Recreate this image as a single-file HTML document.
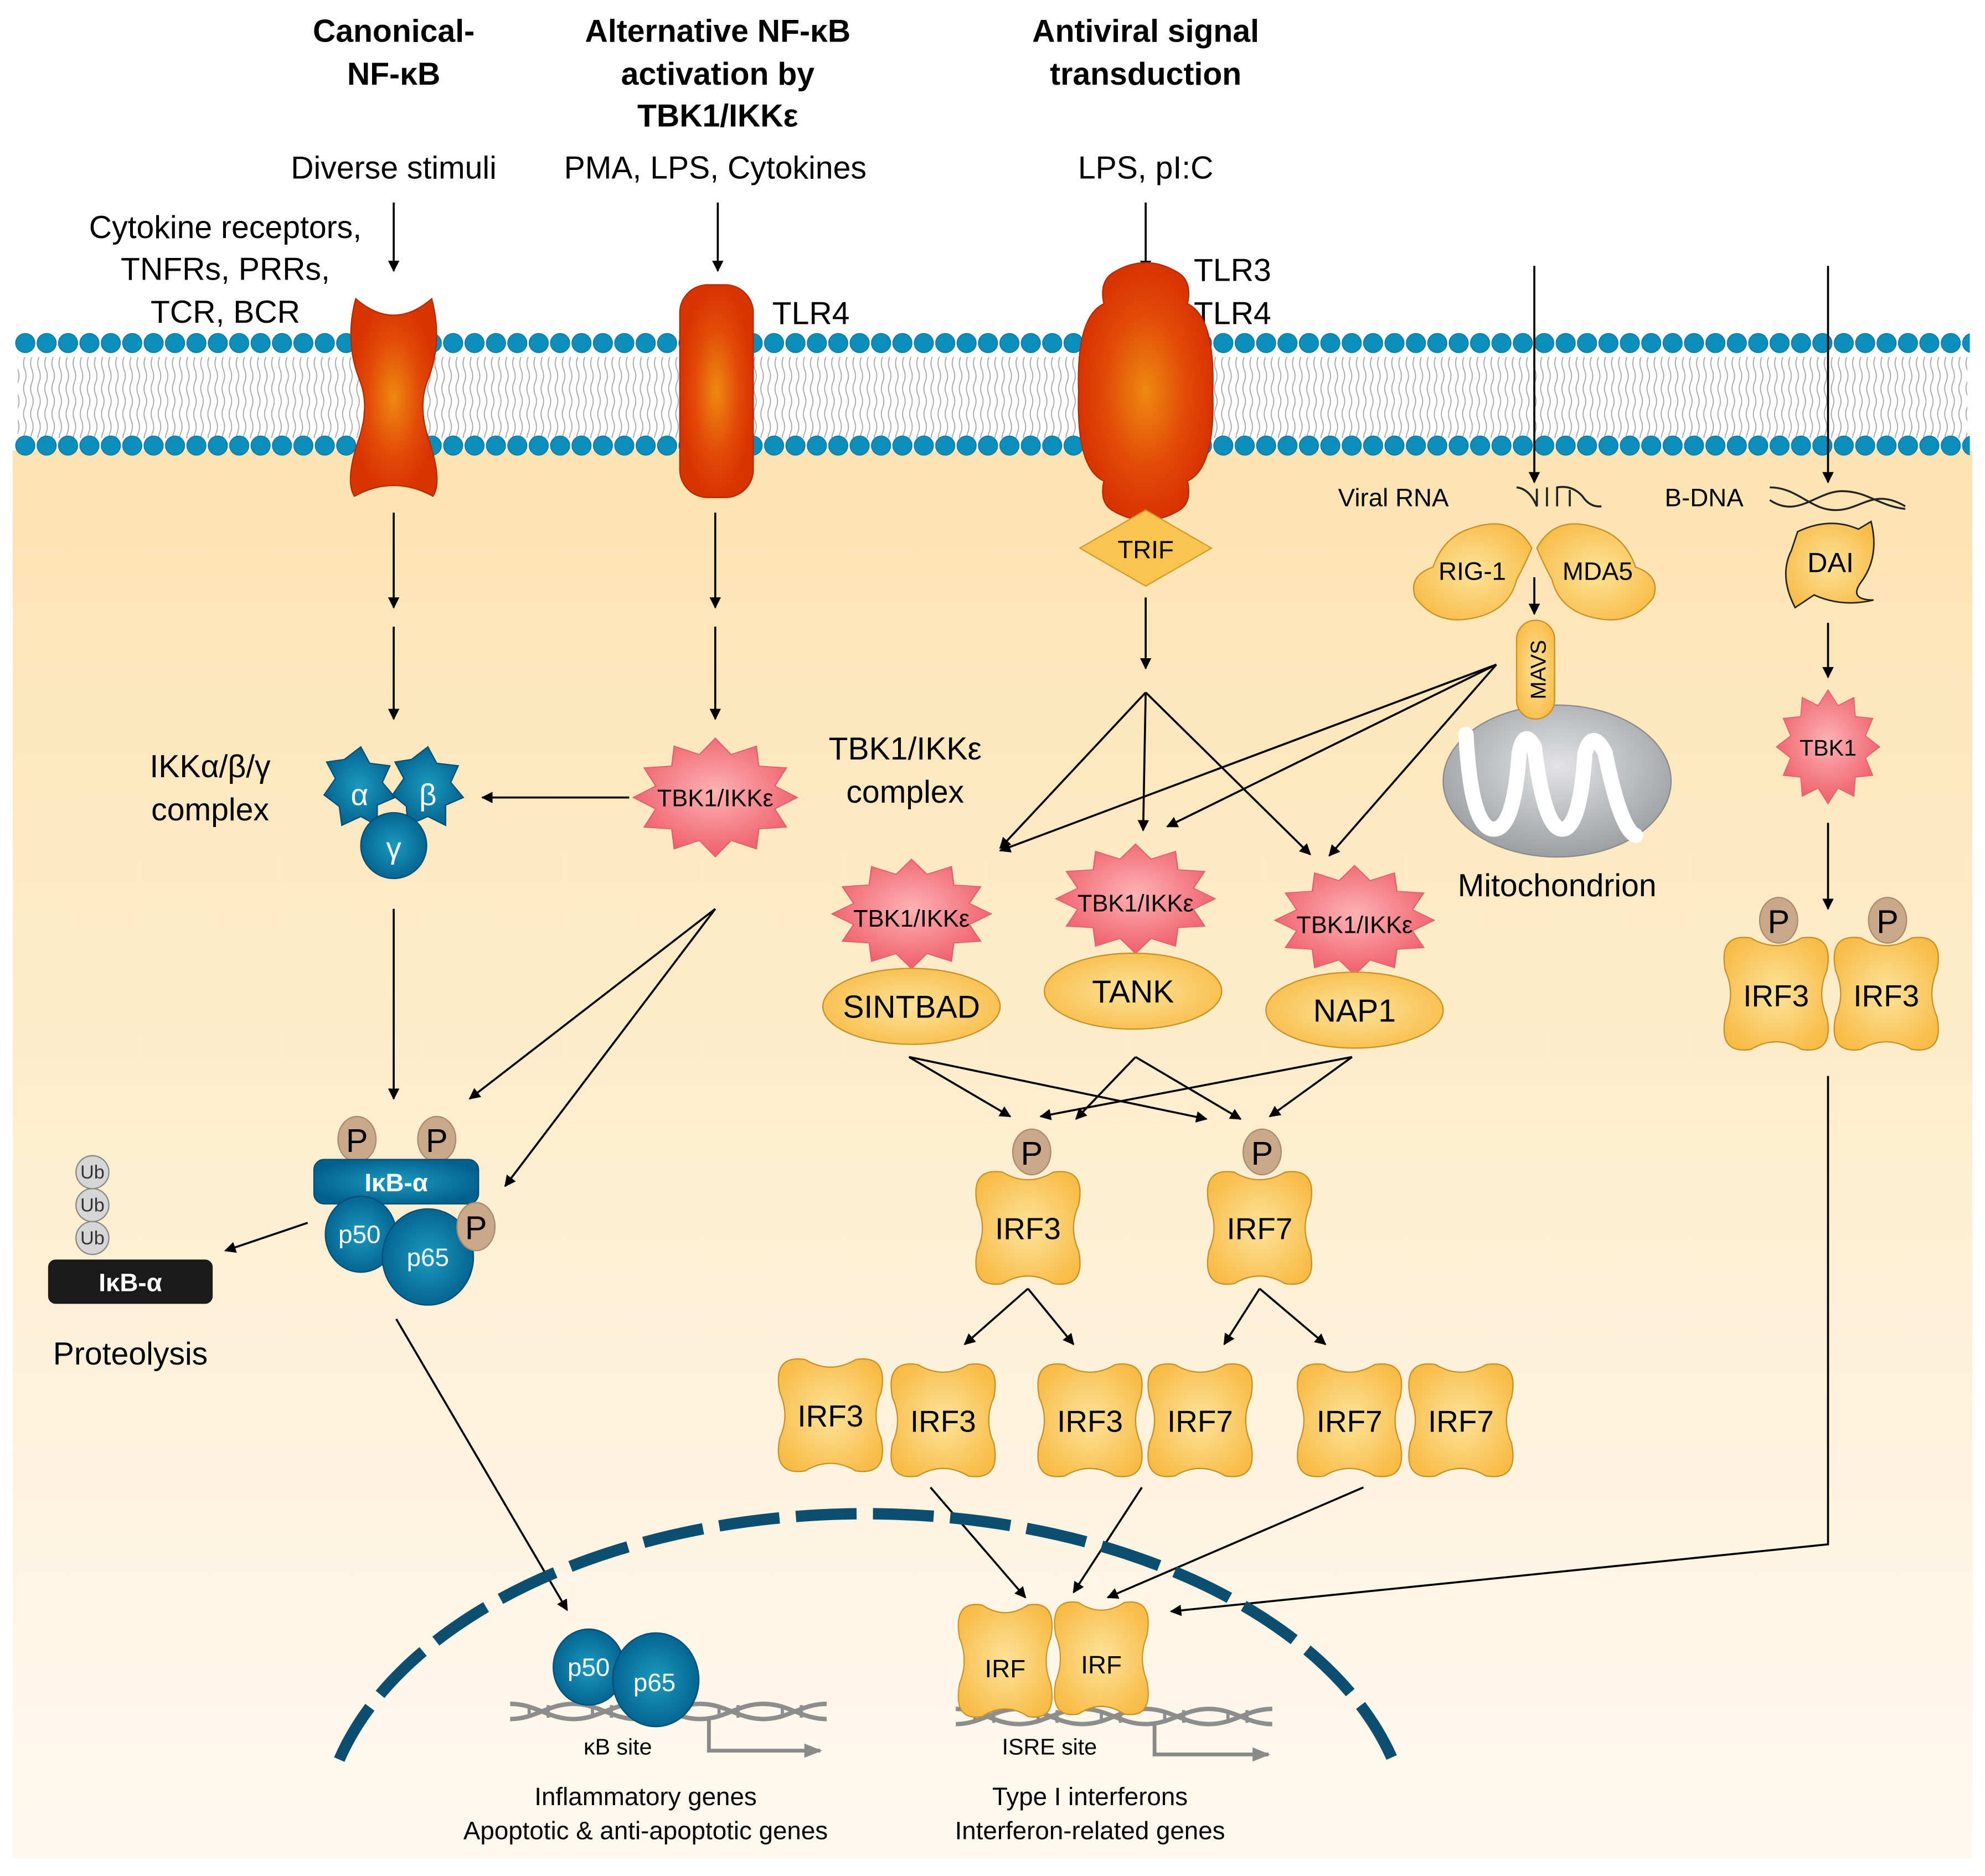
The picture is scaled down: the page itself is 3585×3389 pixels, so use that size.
<!DOCTYPE html>
<html><head><meta charset="utf-8"><style>
html,body{margin:0;padding:0;background:#fff;}
svg{display:block;}
text{font-family:"Liberation Sans",Arial,sans-serif;}
</style></head><body>
<svg width="3585" height="3389" viewBox="0 0 1568 1482" preserveAspectRatio="none" xmlns="http://www.w3.org/2000/svg">
<defs>
<linearGradient id="cyto" x1="0" y1="0" x2="0" y2="1">
<stop offset="0" stop-color="#fde3b1"/><stop offset="1" stop-color="#fef9f0"/></linearGradient>
<radialGradient id="red" cx="0.5" cy="0.5" r="0.5"><stop offset="0" stop-color="#ee8a10"/><stop offset="0.6" stop-color="#e24a08"/><stop offset="1" stop-color="#d93300"/></radialGradient>
<radialGradient id="pink" cx="0.5" cy="0.45" r="0.55"><stop offset="0" stop-color="#fdb3b3"/><stop offset="1" stop-color="#ef5e6c"/></radialGradient>
<radialGradient id="orng" cx="0.5" cy="0.5" r="0.6"><stop offset="0" stop-color="#fde39a"/><stop offset="1" stop-color="#f8bb45"/></radialGradient>
<radialGradient id="blue" cx="0.5" cy="0.5" r="0.55"><stop offset="0" stop-color="#1b9ac0"/><stop offset="1" stop-color="#02608e"/></radialGradient>
<radialGradient id="mito" cx="0.5" cy="0.4" r="0.6"><stop offset="0" stop-color="#e4e4e6"/><stop offset="1" stop-color="#9c9ea2"/></radialGradient>
<pattern id="heads1" x="11.5" y="263" width="16.9" height="16" patternUnits="userSpaceOnUse">
<circle cx="8.45" cy="8" r="7.6" fill="#0a8fbd" stroke="#08709a" stroke-width="0.6"/></pattern>
<pattern id="heads2" x="11.5" y="344" width="16.9" height="16" patternUnits="userSpaceOnUse">
<circle cx="8.45" cy="8" r="7.6" fill="#0a8fbd" stroke="#08709a" stroke-width="0.6"/></pattern>
<pattern id="tails" x="0" y="282" width="5.6" height="40" patternUnits="userSpaceOnUse">
<path d="M2.8,0 q-2,5 0,10 q2,5 0,10 q-2,5 0,10 q2,5 0,10" fill="none" stroke="#a6a6a6" stroke-width="0.8"/></pattern>
<marker id="ar" viewBox="0 0 10 10" refX="9" refY="5" markerWidth="9" markerHeight="9" markerUnits="userSpaceOnUse" orient="auto">
<path d="M0,0 L10,5 L0,10 z" fill="#000"/></marker>
<marker id="arg" viewBox="0 0 10 10" refX="9" refY="5" markerWidth="14" markerHeight="14" markerUnits="userSpaceOnUse" orient="auto">
<path d="M0,1 L10,5 L0,9 z" fill="#8a8a8a"/></marker>
<path id="irf" d="M-20,-44 Q0,-32 20,-44 Q46,-48 40,-18 Q32,0 40,18 Q46,48 20,44 Q0,32 -20,44 Q-46,48 -40,18 Q-32,0 -40,-18 Q-46,-48 -20,-44 Z" fill="url(#orng)" stroke="#c99026" stroke-width="1"/>
<polygon id="star" points="60,0 43.5,11.6 52,30 31.8,31.8 30,52 11.6,43.5 0,60 -11.6,43.5 -30,52 -31.8,31.8 -52,30 -43.5,11.6 -60,0 -43.5,-11.6 -52,-30 -31.8,-31.8 -30,-52 -11.6,-43.5 0,-60 11.6,-43.5 30,-52 31.8,-31.8 52,-30 43.5,-11.6" fill="url(#pink)" stroke="#e0606c" stroke-width="1"/>
<g id="dna"><path d="M0,-6 C20,-6 30,6 50,6 C70,6 80,-6 100,-6 C120,-6 130,6 150,6 C170,6 180,-6 200,-6 C220,-6 230,6 250,6" fill="none" stroke="#8d8d8d" stroke-width="3.5"/>
<path d="M0,6 C20,6 30,-6 50,-6 C70,-6 80,6 100,6 C120,6 130,-6 150,-6 C170,-6 180,6 200,6 C220,6 230,-6 250,-6" fill="none" stroke="#8d8d8d" stroke-width="3.5"/>
<path d="M15,-5v10M30,-5v10M65,-5v10M80,-5v10M115,-5v10M130,-5v10M165,-5v10M180,-5v10M215,-5v10M230,-5v10" stroke="#8d8d8d" stroke-width="2.5"/></g>
</defs>

<!-- cytoplasm -->
<rect x="10" y="356" width="1548" height="1112" fill="url(#cyto)"/>
<!-- membrane -->
<rect x="14" y="282" width="1540" height="64" fill="url(#tails)"/>
<rect x="11" y="263" width="1545" height="16" fill="url(#heads1)"/>
<rect x="11" y="344" width="1545" height="16" fill="url(#heads2)"/>

<!-- titles -->
<g font-weight="bold" font-size="25" text-anchor="middle">
<text x="311" y="33">Canonical-</text><text x="311" y="67">NF-κB</text>
<text x="567" y="33">Alternative NF-κB</text><text x="567" y="67">activation by</text><text x="567" y="100">TBK1/IKKε</text>
<text x="905" y="33">Antiviral signal</text><text x="905" y="67">transduction</text>
</g>
<g font-size="25" text-anchor="middle">
<text x="311" y="141">Diverse stimuli</text>
<text x="565" y="141">PMA, LPS, Cytokines</text>
<text x="905" y="141">LPS, pI:C</text>
<text x="178" y="188">Cytokine receptors,</text>
<text x="178" y="221">TNFRs, PRRs,</text>
<text x="178" y="255">TCR, BCR</text>
</g>
<g font-size="25"><text x="610" y="256">TLR4</text><text x="943" y="222">TLR3</text><text x="943" y="256">TLR4</text></g>

<!-- arrows -->
<g stroke="#000" stroke-width="1.6" fill="none" marker-end="url(#ar)">
<path d="M311,160V214"/><path d="M567,160V214"/><path d="M905,160V214"/>
<path d="M1212,210V381"/><path d="M1444,210V381"/>
<path d="M311,405V480"/><path d="M311,495V568"/>
<path d="M565,405V480"/><path d="M565,495V568"/>
<path d="M497,630H381"/>
<path d="M311,718V868"/>
<path d="M565,718L371,868"/><path d="M565,718L399,937"/>
<path d="M243,966L178,988"/>
<path d="M313,1042L448,1272"/>
<path d="M905,472V528"/>
<path d="M905,547L790,670"/><path d="M905,547L903,656"/><path d="M905,547L1035,675"/>
<path d="M1182,525L790,672"/><path d="M1182,525L922,653"/><path d="M1182,525L1050,676"/>
<path d="M1212,456V485"/>
<path d="M1444,492V535"/><path d="M1444,650V718"/>
<path d="M718,835L798,882"/><path d="M718,835L953,884"/>
<path d="M897,835L850,884"/><path d="M897,835L980,884"/>
<path d="M1068,835L822,882"/><path d="M1068,835L1003,882"/>
<path d="M812,1018L762,1062"/><path d="M812,1018L848,1062"/>
<path d="M995,1018L967,1062"/><path d="M995,1018L1047,1062"/>
<path d="M735,1175L810,1262"/><path d="M902,1175L848,1258"/><path d="M1077,1175L875,1262"/>
<path d="M1444,850V1220L925,1273"/>
</g>

<!-- receptor 1 hourglass -->
<path d="M281,236 Q311,262 341,236 Q350,270 338,300 Q330,320 338,345 Q350,380 342,392 Q311,375 280,392 Q272,380 284,345 Q292,320 284,300 Q272,270 281,236Z" fill="url(#red)" stroke="#b52a00" stroke-width="1"/>
<!-- receptor 2 -->
<rect x="537" y="225" width="58" height="168" rx="22" fill="url(#red)" stroke="#b52a00" stroke-width="1"/>
<!-- receptor 3 -->
<path d="M880,215 Q905,200 930,215 Q942,222 938,240 Q960,250 958,310 Q960,370 938,380 Q942,398 930,404 Q905,418 880,404 Q868,398 872,380 Q850,370 852,310 Q850,250 872,240 Q868,222 880,215Z" fill="url(#red)" stroke="#b52a00" stroke-width="1"/>
<!-- TRIF -->
<polygon points="905,403 957,433 905,463 853,433" fill="#f9c54e" stroke="#d49a2a" stroke-width="1"/>
<text x="905" y="441" font-size="20" text-anchor="middle">TRIF</text>

<!-- viral RNA / B-DNA -->
<text x="1057" y="400" font-size="20">Viral RNA</text>
<path d="M1198,385 Q1208,386 1214,400 V386 M1222,400 V385 M1230,400 V385 Q1242,383 1250,392 Q1256,401 1265,400 M1240,387 V400" fill="none" stroke="#222" stroke-width="1.6"/>
<text x="1315" y="400" font-size="20">B-DNA</text>
<path d="M1398,385 C1420,385 1430,403 1450,403 C1470,403 1480,385 1505,400" fill="none" stroke="#222" stroke-width="1.5"/>
<path d="M1398,395 C1420,410 1435,388 1455,388 C1475,388 1485,400 1505,402" fill="none" stroke="#222" stroke-width="1.5"/>

<!-- RIG-1 / MDA5 -->
<path d="M1210,433 Q1195,405 1160,418 Q1140,425 1132,448 Q1112,455 1118,472 Q1135,495 1165,488 Q1192,482 1198,458 Q1205,445 1210,433Z" fill="url(#orng)" stroke="#c99026"/>
<path d="M1214,433 Q1229,405 1264,418 Q1284,425 1292,448 Q1312,455 1306,472 Q1289,495 1259,488 Q1232,482 1226,458 Q1219,445 1214,433Z" fill="url(#orng)" stroke="#c99026"/>
<text x="1163" y="458" font-size="20" text-anchor="middle">RIG-1</text>
<text x="1262" y="458" font-size="20" text-anchor="middle">MDA5</text>
<!-- mitochondrion -->
<ellipse cx="1230" cy="617" rx="90" ry="60" fill="url(#mito)" stroke="#8a8a8a"/>
<path d="M1158,580 Q1162,655 1180,655 Q1196,655 1200,595 Q1204,575 1212,590 Q1220,655 1234,655 Q1248,655 1252,595 Q1258,575 1268,595 Q1280,655 1292,660" fill="none" stroke="#fff" stroke-width="12" stroke-linecap="round"/>
<rect x="1198" y="490" width="30" height="78" rx="15" fill="url(#orng)" stroke="#c99026"/>
<text transform="translate(1221,529) rotate(-90)" font-size="17" text-anchor="middle">MAVS</text>
<text x="1230" y="708" font-size="25" text-anchor="middle">Mitochondrion</text>

<!-- DAI -->
<path d="M1420,420 Q1445,408 1468,418 L1478,412 Q1485,440 1470,460 Q1460,474 1480,474 Q1455,480 1433,470 L1418,480 Q1405,455 1415,435 Z" fill="url(#orng)" stroke="#222" stroke-width="1.2"/>
<text x="1446" y="452" font-size="22" text-anchor="middle">DAI</text>
<!-- TBK1 -->
<use href="#star" transform="translate(1444,590) scale(0.68,0.75)"/>
<text x="1444" y="597" font-size="18" text-anchor="middle">TBK1</text>
<!-- right IRF3 dimer -->
<use href="#irf" transform="translate(1403,785)"/><use href="#irf" transform="translate(1490,785)"/>
<text x="1403" y="795" font-size="24" text-anchor="middle">IRF3</text><text x="1490" y="795" font-size="24" text-anchor="middle">IRF3</text>
<ellipse cx="1405" cy="727" rx="15" ry="18" fill="#caa98a" stroke="#a98a70"/><text x="1405" y="737" font-size="26" text-anchor="middle">P</text>
<ellipse cx="1491" cy="727" rx="15" ry="18" fill="#caa98a" stroke="#a98a70"/><text x="1491" y="737" font-size="26" text-anchor="middle">P</text>

<!-- IKK complex -->
<g fill="url(#blue)" stroke="#024e74" stroke-width="1">
<path d="M272,600 L285,590 L292,603 L308,605 L302,618 L312,630 L298,636 L298,652 L285,645 L270,652 L268,637 L256,628 L265,615 L258,602Z"/>
<path d="M325,600 L338,590 L345,603 L362,605 L356,618 L366,630 L352,636 L352,652 L338,645 L322,652 L321,637 L310,628 L319,615 L312,602Z"/>
<circle cx="311" cy="668" r="26"/>
</g>
<g fill="#fff" font-size="24" text-anchor="middle"><text x="284" y="636">α</text><text x="338" y="636">β</text><text x="311" y="678">γ</text></g>
<text x="166" y="614" font-size="25" text-anchor="middle">IKKα/β/γ</text>
<text x="166" y="648" font-size="25" text-anchor="middle">complex</text>
<use href="#star" transform="translate(565,630) scale(1.08,0.78)"/>
<text x="565" y="637" font-size="19" text-anchor="middle">TBK1/IKKε</text>
<text x="715" y="600" font-size="25" text-anchor="middle">TBK1/IKKε</text>
<text x="715" y="634" font-size="25" text-anchor="middle">complex</text>

<!-- IkB complex -->
<ellipse cx="282" cy="900" rx="15" ry="18" fill="#caa98a" stroke="#a98a70"/><text x="282" y="910" font-size="26" text-anchor="middle">P</text>
<ellipse cx="345" cy="900" rx="15" ry="18" fill="#caa98a" stroke="#a98a70"/><text x="345" y="910" font-size="26" text-anchor="middle">P</text>
<rect x="248" y="916" width="130" height="35" rx="8" fill="url(#blue)" stroke="#024e74"/>
<text x="313" y="941" font-size="20" fill="#fff" text-anchor="middle" font-weight="bold">IκB-α</text>
<ellipse cx="285" cy="975" rx="28" ry="30" fill="url(#blue)" stroke="#024e74"/>
<ellipse cx="338" cy="993" rx="36" ry="38" fill="url(#blue)" stroke="#024e74"/>
<ellipse cx="376" cy="969" rx="15" ry="19" fill="#caa98a" stroke="#a98a70"/><text x="376" y="979" font-size="26" text-anchor="middle">P</text>
<text x="284" y="982" font-size="20" fill="#fff" text-anchor="middle">p50</text>
<text x="338" y="1000" font-size="20" fill="#fff" text-anchor="middle">p65</text>
<g fill="#d6d6d6" stroke="#888"><circle cx="73" cy="926" r="13"/><circle cx="73" cy="952" r="13"/><circle cx="73" cy="978" r="13"/></g>
<g font-size="15" text-anchor="middle" fill="#333"><text x="73" y="931">Ub</text><text x="73" y="957">Ub</text><text x="73" y="983">Ub</text></g>
<rect x="38" y="995" width="130" height="35" rx="6" fill="#1a1a1a"/>
<text x="103" y="1020" font-size="20" fill="#fff" font-weight="bold" text-anchor="middle">IκB-α</text>
<text x="103" y="1078" font-size="25" text-anchor="middle">Proteolysis</text>

<!-- middle TBK complexes -->
<use href="#star" transform="translate(720,722) scale(1.05,0.72)"/>
<use href="#star" transform="translate(897,710) scale(1.05,0.72)"/>
<use href="#star" transform="translate(1070,727) scale(1.05,0.72)"/>
<g font-size="19" text-anchor="middle"><text x="720" y="732">TBK1/IKKε</text><text x="897" y="720">TBK1/IKKε</text><text x="1070" y="737">TBK1/IKKε</text></g>
<g fill="url(#orng)" stroke="#c99026"><ellipse cx="720" cy="795" rx="70" ry="30"/><ellipse cx="895" cy="783" rx="70" ry="30"/><ellipse cx="1070" cy="798" rx="70" ry="30"/></g>
<g font-size="25" text-anchor="middle"><text x="720" y="804">SINTBAD</text><text x="895" y="792">TANK</text><text x="1070" y="807">NAP1</text></g>

<!-- IRF3 / IRF7 -->
<use href="#irf" transform="translate(812,970)"/><use href="#irf" transform="translate(995,970)"/>
<ellipse cx="815" cy="910" rx="15" ry="18" fill="#caa98a" stroke="#a98a70"/><text x="815" y="920" font-size="26" text-anchor="middle">P</text>
<ellipse cx="997" cy="910" rx="15" ry="18" fill="#caa98a" stroke="#a98a70"/><text x="997" y="920" font-size="26" text-anchor="middle">P</text>
<g font-size="24" text-anchor="middle"><text x="812" y="979">IRF3</text><text x="995" y="979">IRF7</text></g>
<use href="#irf" transform="translate(656,1118)"/><use href="#irf" transform="translate(745,1122)"/>
<use href="#irf" transform="translate(861,1122)"/><use href="#irf" transform="translate(948,1122)"/>
<use href="#irf" transform="translate(1066,1122)"/><use href="#irf" transform="translate(1154,1122)"/>
<g font-size="24" text-anchor="middle"><text x="656" y="1127">IRF3</text><text x="745" y="1131">IRF3</text><text x="861" y="1131">IRF3</text><text x="948" y="1131">IRF7</text><text x="1066" y="1131">IRF7</text><text x="1154" y="1131">IRF7</text></g>

<!-- nucleus -->
<path d="M268,1390 A430 260 0 0 1 1100,1390" fill="none" stroke="#0b4e6f" stroke-width="9" stroke-dasharray="48,13"/>
<use href="#dna" transform="translate(403,1352)"/>
<path d="M560,1358V1383H648" fill="none" stroke="#8a8a8a" stroke-width="3" marker-end="url(#arg)"/>
<ellipse cx="465" cy="1317" rx="28" ry="30" fill="url(#blue)" stroke="#024e74"/>
<ellipse cx="518" cy="1327" rx="34" ry="37" fill="url(#blue)" stroke="#024e74"/>
<text x="465" y="1324" font-size="20" fill="#fff" text-anchor="middle">p50</text>
<text x="517" y="1336" font-size="20" fill="#fff" text-anchor="middle">p65</text>
<text x="488" y="1386" font-size="18" text-anchor="middle">κB site</text>
<text x="510" y="1426" font-size="20" text-anchor="middle">Inflammatory genes</text>
<text x="510" y="1453" font-size="20" text-anchor="middle">Apoptotic &amp; anti-apoptotic genes</text>
<use href="#dna" transform="translate(755,1356)"/>
<path d="M912,1360V1386H1002" fill="none" stroke="#8a8a8a" stroke-width="3" marker-end="url(#arg)"/>
<use href="#irf" transform="translate(794,1312) scale(0.9,1)"/><use href="#irf" transform="translate(870,1310) scale(0.9,1)"/>
<g font-size="20" text-anchor="middle"><text x="794" y="1325">IRF</text><text x="870" y="1322">IRF</text></g>
<text x="829" y="1386" font-size="18" text-anchor="middle">ISRE site</text>
<text x="861" y="1426" font-size="20" text-anchor="middle">Type I interferons</text>
<text x="861" y="1453" font-size="20" text-anchor="middle">Interferon-related genes</text>
</svg>
</body></html>
